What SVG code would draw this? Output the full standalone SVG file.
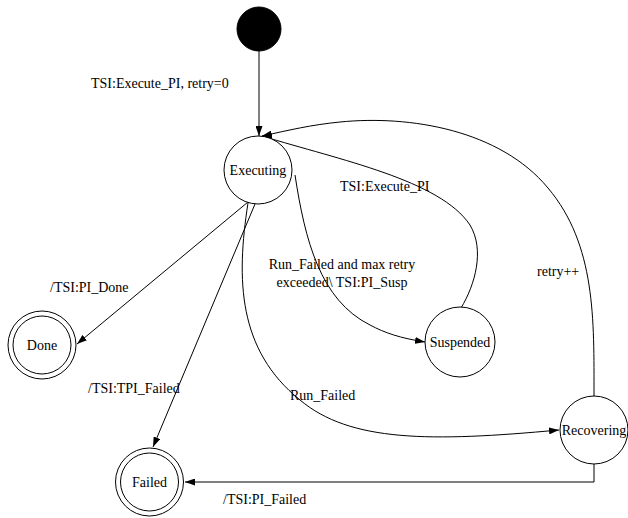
<svg xmlns="http://www.w3.org/2000/svg" width="628" height="518" viewBox="0 0 628 518">
<defs>
<marker id="arr" viewBox="0 0 10 7" refX="10" refY="3.5" markerWidth="10" markerHeight="7" markerUnits="userSpaceOnUse" orient="auto">
<path d="M0,0 L10,3.5 L0,7 z" fill="#000"/>
</marker>
</defs>
<rect width="628" height="518" fill="#fff"/>
<g id="connectors" fill="none" stroke="#000" stroke-width="1">
<path marker-end="url(#arr)" d="M259,51 L259,136"/>
<path marker-end="url(#arr)" d="M248,202 L77,344"/>
<path marker-end="url(#arr)" d="M255,204 L153,447"/>
<path marker-end="url(#arr)" d="M248,203 C236,280 238,350 300,400 C350,442 430,442 559,430"/>
<path marker-end="url(#arr)" d="M295,175 C305,240 320,300 370,325 C385,333 400,338 425,342"/>
<path marker-end="url(#arr)" d="M461,308 C475,285 485,250 470,225 C440,180 340,160 262,136"/>
<path marker-end="url(#arr)" d="M594,396 C594,320 596,245 548,188 C500,130 410,115 340,122 C310,125 290,130 262,136"/>
<path marker-end="url(#arr)" d="M594,464 L594,482 L185,482"/>
</g>
<g id="labels" fill="#000" stroke="none">
<text font-family="Times New Roman" font-size="14" x="91" y="88">TSI:Execute_PI, retry=0</text>
<text font-family="Times New Roman" font-size="14" x="50" y="292">/TSI:PI_Done</text>
<text font-family="Times New Roman" font-size="14" x="88" y="393">/TSI:TPI_Failed</text>
<text font-family="Times New Roman" font-size="14" x="290" y="400">Run_Failed</text>
<text font-family="Times New Roman" font-size="14" text-anchor="middle" x="342" y="269">Run_Failed and max retry</text>
<text font-family="Times New Roman" font-size="14" text-anchor="middle" x="342" y="287">exceeded\ TSI:PI_Susp</text>
<text font-family="Times New Roman" font-size="14" x="340" y="191">TSI:Execute_PI</text>
<text font-family="Times New Roman" font-size="14" x="537" y="276">retry++</text>
<text font-family="Times New Roman" font-size="14" x="223" y="504">/TSI:PI_Failed</text>
</g>
<g id="initial"><circle cx="259" cy="29" r="22" fill="#000" stroke="#000"/></g>
<g id="executing"><circle cx="258" cy="170" r="34" fill="#fff" stroke="#000"/><text font-family="Times New Roman" font-size="14" text-anchor="middle" x="258" y="175">Executing</text></g>
<g id="suspended"><circle cx="460" cy="342" r="35" fill="#fff" stroke="#000"/><text font-family="Times New Roman" font-size="14" text-anchor="middle" x="460" y="347">Suspended</text></g>
<g id="recovering"><circle cx="594" cy="430" r="34" fill="#fff" stroke="#000"/><text font-family="Times New Roman" font-size="14" text-anchor="middle" x="594" y="435">Recovering</text></g>
<g id="done"><circle cx="42" cy="345" r="34" fill="#fff" stroke="#000"/><circle cx="42" cy="345" r="29" fill="#fff" stroke="#000"/><text font-family="Times New Roman" font-size="14" text-anchor="middle" x="42" y="350">Done</text></g>
<g id="failed"><circle cx="149.5" cy="482" r="34" fill="#fff" stroke="#000"/><circle cx="149.5" cy="482" r="29" fill="#fff" stroke="#000"/><text font-family="Times New Roman" font-size="14" text-anchor="middle" x="149.5" y="487">Failed</text></g>
</svg>
